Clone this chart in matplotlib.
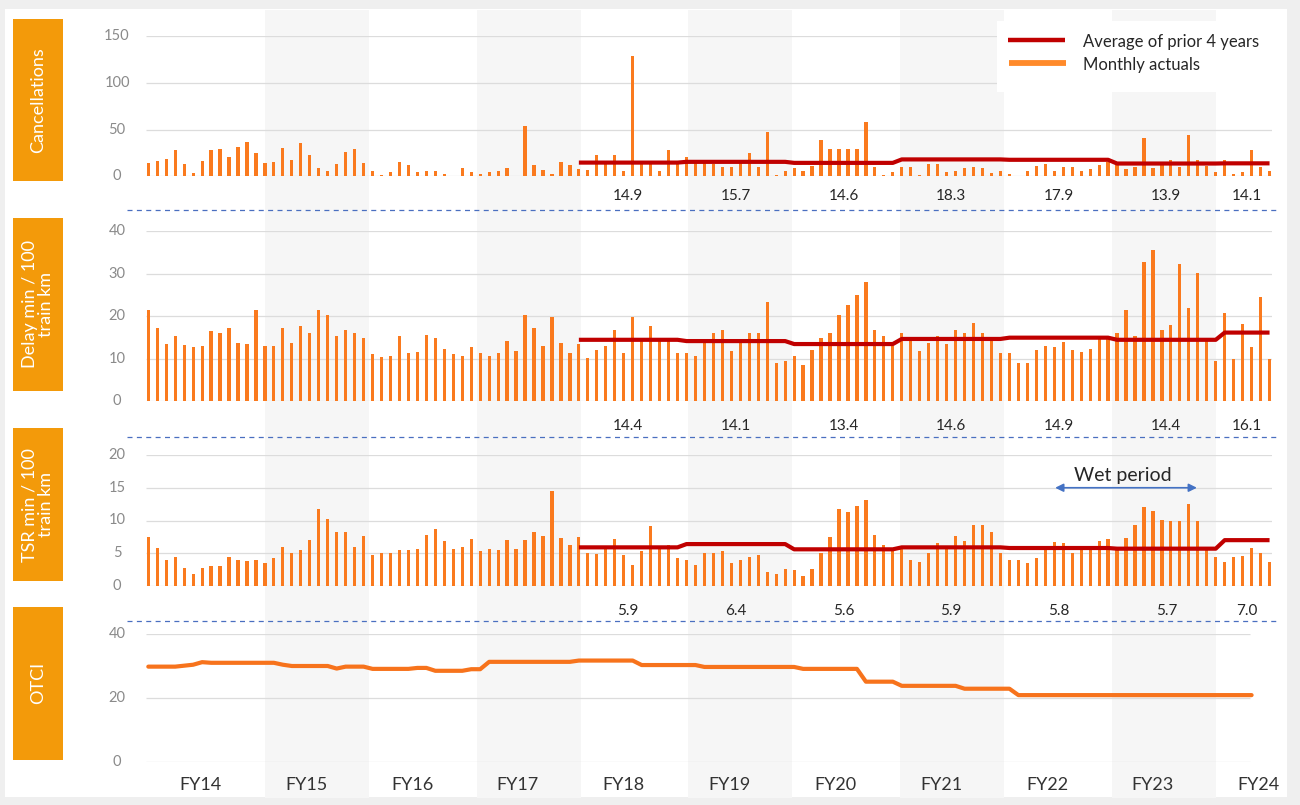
import numpy as np
import matplotlib
matplotlib.use('Agg')
import matplotlib.pyplot as plt
from matplotlib.patches import Rectangle
from matplotlib.lines import Line2D
from matplotlib.transforms import blended_transform_factory

plt.rcParams['font.family'] = ['Lato', 'DejaVu Sans']

# ---------------- data ----------------
fiscal_years = ['FY14', 'FY15', 'FY16', 'FY17', 'FY18', 'FY19', 'FY20',
                'FY21', 'FY22', 'FY23', 'FY24']
avg_years = ['FY18', 'FY19', 'FY20', 'FY21', 'FY22', 'FY23', 'FY24']

cancellations = [
    14.3, 17, 19, 28, 13.6, 3.6, 17, 28.6, 29.3, 21.4, 32, 37,
    25.7, 14.3, 15.7, 30, 17.9, 36.4, 23.2, 9, 6.4, 13.6, 26, 29.6,
    14.3, 6.4, 1.4, 4.3, 15.4, 11.8, 5, 6.4, 6.4, 2.9, 0.5, 8.6,
    4.3, 2.9, 4.3, 5.4, 9.6, 0.7, 53.6, 12.5, 7.1, 2.9, 15, 12.5,
    7.9, 7.1, 23.2, 13.6, 23.2, 6.4, 129, 13.6, 17, 5.4, 27.9, 14.3,
    20.7, 14.3, 14.3, 13.6, 10.7, 10.7, 17.9, 25.7, 10.7, 48.2, 1.8, 5.4,
    8.9, 6.4, 11.4, 39.3, 29.3, 29.3, 29.3, 29.3, 58.9, 10.7, 1.8, 4.3,
    10.7, 10, 1.8, 13.6, 13.6, 4.3, 5.4, 8.9, 10.7, 8.9, 3.6, 5.4,
    2.9, 0.7, 5.4, 11.4, 13.6, 5.4, 10, 10, 5.4, 7.9, 12.5, 16,
    12.5, 7.9, 10, 41, 8.9, 13.6, 17.9, 10.7, 44.6, 17.9, 11.4, 4.3,
    17.9, 2.9, 4.3, 27.9, 10.7, 6.4,
]

delay = [
    21.3, 17.2, 13.5, 15.2, 13.1, 12.7, 12.9, 16.4, 15.9, 17.2, 13.7, 13.5,
    21.3, 13, 12.9, 17.2, 13.7, 17.7, 15.9, 21.3, 20.2, 15.4, 16.6, 15.9,
    14.9, 11.1, 10.3, 10.5, 15.2, 11.3, 11.6, 15.5, 14.9, 12.3, 11.1, 10.7,
    12.6, 11.3, 10.7, 11.3, 14.1, 11.7, 20.2, 17.2, 13, 19.8, 13.7, 11.3,
    13.5, 10.2, 11.9, 12.9, 16.6, 11.3, 19.8, 14.3, 17.6, 14.2, 14.1, 11.3,
    11.2, 10.7, 13.8, 15.9, 16.6, 11.7, 13.8, 16, 16, 23.4, 9, 9.5,
    10.7, 8.4, 12, 14.8, 15.9, 20.2, 22.6, 24.9, 27.9, 16.6, 15.2, 13,
    15.9, 14.1, 11.7, 13.7, 15.2, 13.5, 16.6, 15.9, 18.4, 16, 15.1, 11.2,
    11.3, 9, 9, 12, 13, 12.7, 14, 12, 11.6, 12.3, 14.5, 14.5,
    16, 21.5, 15.2, 32.6, 35.5, 16.6, 17.9, 32.3, 21.9, 30.2, 14.5, 9.3,
    20.7, 9.9, 18.2, 12.6, 24.4, 9.9,
]

tsr = [
    7.5, 5.8, 4.0, 4.4, 2.7, 1.9, 2.8, 3.1, 3.1, 4.4, 4.0, 3.8,
    3.9, 3.5, 4.3, 6.0, 5.1, 5.5, 7.0, 11.7, 10.3, 8.2, 8.2, 6.0,
    7.7, 4.7, 5.1, 5.1, 5.5, 5.5, 5.6, 7.8, 8.7, 6.8, 5.6, 5.9,
    7.1, 5.4, 5.6, 5.5, 7.0, 5.6, 7.0, 8.2, 7.7, 14.5, 7.4, 6.2,
    7.5, 5.0, 4.9, 5.8, 7.1, 4.7, 3.2, 5.4, 9.1, 5.6, 6.3, 4.2,
    3.9, 3.2, 5.1, 5.0, 5.3, 3.5, 3.9, 4.4, 4.7, 2.2, 1.8, 2.6,
    2.4, 1.5, 2.6, 5.0, 7.5, 11.8, 11.3, 12.2, 13.2, 7.8, 6.3, 5.5,
    5.8, 4.0, 3.6, 5.0, 6.6, 5.8, 7.6, 6.8, 9.3, 9.3, 8.2, 5.1,
    4.0, 4.0, 3.5, 4.2, 5.5, 6.7, 6.5, 5.0, 5.5, 5.5, 6.9, 7.1,
    5.5, 7.3, 9.3, 12.1, 11.4, 10.1, 9.9, 9.9, 12.5, 9.9, 5.5, 4.4,
    3.6, 4.4, 4.6, 5.8, 5.0, 3.6,
]

otci = [
    29.8, 29.8, 29.8, 29.8, 30.1, 30.4, 31.2, 31.0, 31.0, 31.0, 31.0, 31.0,
    31.0, 31.0, 31.0, 30.4, 30.0, 30.0, 30.0, 30.0, 30.0, 29.2, 29.8, 29.8,
    29.8, 29.1, 29.1, 29.1, 29.1, 29.1, 29.4, 29.4, 28.5, 28.5, 28.5, 28.5,
    29.0, 29.0, 31.3, 31.3, 31.3, 31.3, 31.3, 31.3, 31.3, 31.3, 31.3, 31.3,
    31.7, 31.7, 31.7, 31.7, 31.7, 31.7, 31.7, 30.3, 30.3, 30.3, 30.3, 30.3,
    30.3, 30.3, 29.7, 29.7, 29.7, 29.7, 29.7, 29.7, 29.7, 29.7, 29.7, 29.7,
    29.7, 29.1, 29.1, 29.1, 29.1, 29.1, 29.1, 29.1, 25.1, 25.1, 25.1, 25.1,
    23.8, 23.8, 23.8, 23.8, 23.8, 23.8, 23.8, 22.9, 22.9, 22.9, 22.9, 22.9,
    22.9, 20.9, 20.9, 20.9, 20.9, 20.9, 20.9, 20.9, 20.9, 20.9, 20.9, 20.9,
    20.9, 20.9, 20.9, 20.9, 20.9, 20.9, 20.9, 20.9, 20.9, 20.9, 20.9, 20.9,
    20.9, 20.9, 20.9, 20.9,
]

canc_avg = [14.9, 15.7, 14.6, 18.3, 17.9, 13.9, 14.1]
delay_avg = [14.4, 14.1, 13.4, 14.6, 14.9, 14.4, 16.1]
tsr_avg = [5.9, 6.4, 5.6, 5.9, 5.8, 5.7, 7.0]

# ---------------- layout helpers ----------------
W, H = 1300, 805
def fx(px):
    return px / W
def fy(py):
    return 1 - py / H

X0, DX = 148.3, 8.97            # pixel of month 0, pixels per month
LEFT_PX, RIGHT_PX = 146, 1272
xlim = ((LEFT_PX - X0) / DX, (RIGHT_PX - X0) / DX)

ORANGE = '#FA7A1E'
RED = '#C00000'
BOX = '#F39A0A'
GRID = '#DCDCDC'
TICKC = '#8A8A8A'
TXT = '#262626'
BLUE = '#4A6FC0'

n_months = len(cancellations)
months = np.arange(n_months)
first_avg_month = 12 * (fiscal_years.index(avg_years[0]))

def avg_line(avgs):
    xs, ys = [], []
    for k, v in enumerate(avgs):
        s = first_avg_month + 12 * k
        e = min(s + 12, n_months)
        for m in range(s, e):
            xs.append(m)
            ys.append(v)
    return xs, ys

def avg_centers(avgs):
    cs = []
    for k in range(len(avgs)):
        s = first_avg_month + 12 * k
        e = min(s + 12, n_months)
        cs.append((s + e - 1) / 2)
    return cs

fig = plt.figure(figsize=(13, 8.05), dpi=100)
fig.patch.set_facecolor('#EFEFEF')
fig.add_artist(Rectangle((fx(5), fy(797)), fx(1287) - fx(5), (797 - 9) / H,
                         transform=fig.transFigure, facecolor='white',
                         edgecolor='none', zorder=-10))

# background fiscal-year bands
bg = fig.add_axes([fx(LEFT_PX), fy(798), fx(RIGHT_PX) - fx(LEFT_PX), (798 - 10) / H])
bg.set_zorder(-5)
bg.set_xlim(*xlim)
bg.set_ylim(0, 1)
bg.axis('off')
label_centers = [5.8 + 11.8 * k for k in range(len(fiscal_years))]
for k in range(1, len(fiscal_years), 2):
    bg.axvspan(label_centers[k] - 4.6, label_centers[k] + 7.0,
               color='#F6F6F6', lw=0)

panels = [
    # name, top px (ymax), bottom px (0), ymax, ticks
    ('Cancellations', 36.5, 176.5, 150, [0, 50, 100, 150]),
    ('Delay min / 100\ntrain km', 231, 401, 40, [0, 10, 20, 30, 40]),
    ('TSR min / 100\ntrain km', 455, 586, 20, [0, 5, 10, 15, 20]),
    ('OTCI', 634, 762, 40, [0, 20, 40]),
]
boxes = [(19.4, 181.5), (217.6, 390.7), (428.3, 581.4), (606.5, 759.5)]
series = [cancellations, delay, tsr, None]
avgs = [canc_avg, delay_avg, tsr_avg, None]
label_rows = [196, 426, 611, None]
dash_rows = [210, 437.5, 620.5, None]

axes = []
for p, (name, top, bot, ymax, ticks) in enumerate(panels):
    ax = fig.add_axes([fx(LEFT_PX), fy(bot), fx(RIGHT_PX) - fx(LEFT_PX), (bot - top) / H])
    ax.set_zorder(1)
    ax.set_xlim(*xlim)
    ax.set_ylim(0, ymax)
    ax.axis('off')
    axes.append(ax)
    xmax_grid = xlim[1] if p < 3 else (1250 - X0) / DX
    ax.hlines(ticks, xlim[0], xmax_grid, color=GRID, lw=0.9, zorder=0)
    tr_tick = blended_transform_factory(fig.transFigure, ax.transData)
    for t in ticks:
        ax.text(fx(117), t, f'{t}', transform=tr_tick, ha='center', va='center',
                fontsize=10.5, color=TICKC, clip_on=False)

    # left orange label box
    y0, y1 = boxes[p]
    fig.add_artist(Rectangle((fx(12.7), fy(y1)), fx(63.3) - fx(12.7), (y1 - y0) / H,
                             transform=fig.transFigure, facecolor=BOX,
                             edgecolor='none', zorder=2))
    fig.text(fx(38), fy((y0 + y1) / 2), name, rotation=90, ha='center',
             va='center', color='white', fontsize=13, linespacing=1.05,
             multialignment='center', zorder=3)

    if series[p] is not None:
        ax.bar(months, series[p], width=0.36, color=ORANGE, lw=0, zorder=2)
        xs, ys = avg_line(avgs[p])
        ax.plot(xs, ys, color=RED, lw=3.0, zorder=3, solid_capstyle='butt')
        tr_lab = blended_transform_factory(ax.transData, fig.transFigure)
        for c, v in zip(avg_centers(avgs[p]), avgs[p]):
            ax.text(c, fy(label_rows[p]), f'{v:.1f}', transform=tr_lab,
                    ha='center', va='center', fontsize=11, color=TXT,
                    clip_on=False)
        fig.add_artist(Line2D([fx(127), fx(1278)], [fy(dash_rows[p])] * 2,
                              transform=fig.transFigure, color=BLUE, lw=0.9,
                              ls=(0, (4, 3.5)), zorder=2))
    else:
        ax.plot(np.arange(len(otci)), otci, color='#F7731C', lw=3.0, zorder=3,
                solid_capstyle='round')

# fiscal year labels
tr_fy = blended_transform_factory(axes[3].transData, fig.transFigure)
for c, lab in zip(label_centers, fiscal_years):
    axes[3].text(c, fy(785), lab, transform=tr_fy, ha='center', va='center',
                 fontsize=13, color='#333333', clip_on=False)

# wet period annotation (TSR panel)
ax_t = axes[2]
ax_t.annotate('', xy=(101.1, 15.0), xytext=(116.9, 15.0),
              arrowprops=dict(arrowstyle='<|-|>', color='#4472C4', lw=1.2,
                              mutation_scale=12, shrinkA=0, shrinkB=0),
              annotation_clip=False)
ax_t.text(108.6, 16.9, 'Wet period', ha='center', va='center', fontsize=14,
          color=TXT)

# legend (manual)
fig.add_artist(Rectangle((fx(997), fy(92)), fx(1286) - fx(997), (92 - 21) / H,
                         transform=fig.transFigure, facecolor='white',
                         edgecolor='none', zorder=5))
fig.add_artist(Line2D([fx(1008), fx(1065)], [fy(40)] * 2, transform=fig.transFigure,
                      color=RED, lw=3.2, zorder=6, solid_capstyle='butt'))
fig.add_artist(Line2D([fx(1009), fx(1066)], [fy(63)] * 2, transform=fig.transFigure,
                      color='#FF8A2A', lw=4.2, zorder=6, solid_capstyle='butt'))
fig.text(fx(1083), fy(42), 'Average of prior 4 years', ha='left', va='center',
         fontsize=12, color=TXT, zorder=7)
fig.text(fx(1083), fy(65), 'Monthly actuals', ha='left', va='center',
         fontsize=12, color=TXT, zorder=7)

fig.savefig('out.png', dpi=100, facecolor=fig.get_facecolor())
